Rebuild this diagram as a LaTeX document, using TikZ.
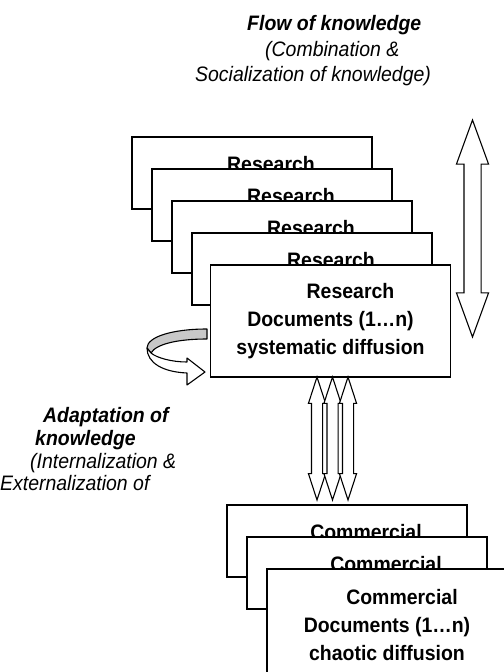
\documentclass[tikz,border=0pt]{standalone}
\usepackage{fontspec}
\setmainfont{Liberation Sans}[FakeStretch=0.93]
\usetikzlibrary{positioning, shapes.arrows}
\definecolor{ribbongray}{RGB}{200, 200, 200}
\tikzset{
    docbox/.style={
        draw=black, line width=1.2pt, fill=white, minimum width=240bp, minimum height=72bp, inner sep=0pt
    },
    bigdoc/.style={
        docbox, minimum height=112bp, align=center, font=\bfseries\fontsize{21}{28.5}\selectfont
    },
    doctitle/.style={
        anchor=base, inner sep=0pt, font=\bfseries\fontsize{21}{28.5}\selectfont
    },
    notetext/.style={
        anchor=base west, inner sep=0pt, font=\itshape\fontsize{21}{24}\selectfont
    },
    notehead/.style={
        anchor=base west, inner sep=0pt, font=\bfseries\itshape\fontsize{21}{24}\selectfont
    }
}

\begin{document}
\begin{tikzpicture}[
        x=1bp, y=-1bp,
        % --- STYLE ---
        blockarrow/.style={double arrow, draw=black, fill=white, line width=1.1pt, rotate=90, inner xsep=0pt, double arrow head indent=0pt},
        flowarrow/.style={blockarrow, minimum height=217bp, minimum width=31bp, inner ysep=8bp, double arrow head extend=7.5bp, double arrow tip angle=40},
        linkarrow/.style={blockarrow, minimum height=123bp, minimum width=16bp, inner ysep=5bp, double arrow head extend=3bp, double arrow tip angle=36},
        ribbon/.style={draw=black, line width=1.1pt, line join=round}
    ]
        \useasboundingbox (0,0) rectangle (504,672);

        % ==========================================
        % RESEARCH DOCUMENTS
        % ==========================================
        \foreach \i in {1,...,4} {
            \node[docbox] (res\i) at ({252+20*(\i-1)}, {173+32*(\i-1)}) {};
            \node[doctitle] (rest\i) at ([xshift=19bp, yshift=-35bp]res\i.north) {Research};
        }
        \node[bigdoc] (res5) at (330.5,321) {\hspace*{40bp}Research\\Documents (1…n)\\systematic diffusion};

        % ==========================================
        % COMMERCIAL DOCUMENTS
        % ==========================================
        \foreach \i in {1,2} {
            \node[docbox] (com\i) at ({347+20*(\i-1)}, {541+32*(\i-1)}) {};
            \node[doctitle] (comt\i) at ([xshift=19bp, yshift=-35bp]com\i.north) {Commercial};
        }
        \node[bigdoc] (com3) at (387,625) {\hspace*{30bp}Commercial\\Documents (1…n)\\chaotic diffusion};

        % ==========================================
        % ARROWS
        % ==========================================
        \node[flowarrow] (flow) at (472.5,228.5) {};

        \node[linkarrow] (link1) at (317,438.5) {};
        \node[linkarrow] (link2) at (332.5,438.5) {};
        \node[linkarrow] (link3) at (348,438.5) {};

        % curved arrow: back side of the ribbon
        \draw[ribbon, fill=ribbongray] (207,329) .. controls (172,329) and (147,337) .. (147,348)
            -- (151,353) .. controls (156,344) and (178,339) .. (207,339) -- cycle;
        % curved arrow: front side with head
        \draw[ribbon, fill=white] (147,348) -- (151,353) .. controls (157,358) and (172,362) .. (187,362)
            -- (187,358) -- (205,372) -- (187,385) -- (187,373)
            .. controls (163,372) and (147,363) .. (147,348) -- cycle;

        % ==========================================
        % TEXTS
        % ==========================================
        \node[notehead] (flowa) at (247,31) {Flow of knowledge};
        \node[notetext] (flowb) at (265,57) {(Combination \&};
        \node[notetext] (flowc) at (195,82) {Socialization of knowledge)};

        \node[notehead] (adapta) at (43,422) {Adaptation of};
        \node[notehead] (adaptb) at (35,445) {knowledge};
        \node[notetext] (adaptc) at (30,468) {(Internalization \&};
        \node[notetext] (adaptd) at (0,490) {Externalization of};

\end{tikzpicture}
\end{document}
